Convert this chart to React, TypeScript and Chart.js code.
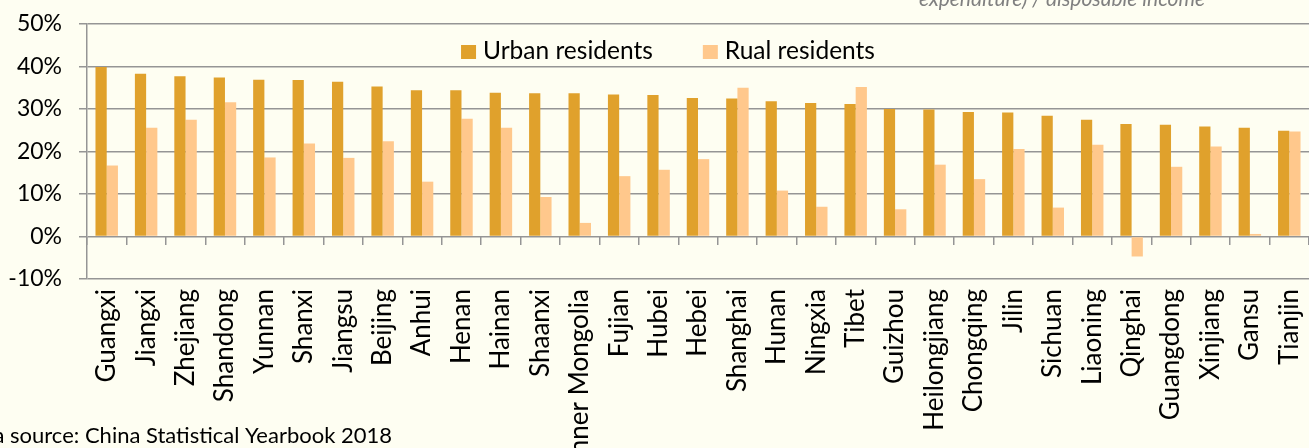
import { useEffect, useRef } from 'react';
import { Chart, registerables } from 'chart.js';

Chart.register(...registerables);

const provinces = [
  'Guangxi', 'Jiangxi', 'Zhejiang', 'Shandong', 'Yunnan', 'Shanxi', 'Jiangsu', 'Beijing',
  'Anhui', 'Henan', 'Hainan', 'Shaanxi', 'Inner Mongolia', 'Fujian', 'Hubei', 'Hebei',
  'Shanghai', 'Hunan', 'Ningxia', 'Tibet', 'Guizhou', 'Heilongjiang', 'Chongqing', 'Jilin',
  'Sichuan', 'Liaoning', 'Qinghai', 'Guangdong', 'Xinjiang', 'Gansu', 'Tianjin',
];

const urbanShare = [
  39.9, 38.3, 37.7, 37.4, 36.9, 36.8, 36.4, 35.3, 34.4, 34.4, 33.8, 33.7, 33.7, 33.4, 33.3, 32.6,
  32.5, 31.8, 31.4, 31.2, 30.0, 29.9, 29.3, 29.2, 28.4, 27.5, 26.5, 26.3, 25.9, 25.6, 24.9,
];

const ruralShare = [
  16.7, 25.6, 27.5, 31.6, 18.6, 21.9, 18.5, 22.4, 12.9, 27.7, 25.6, 9.3, 3.2, 14.2, 15.7, 18.2,
  35.0, 10.8, 7.0, 35.2, 6.4, 16.9, 13.5, 20.6, 6.8, 21.6, -4.7, 16.4, 21.2, 0.6, 24.7,
];

const yTickValues = [-10, 0, 10, 20, 30, 40, 50];
const seriesNames = ['Urban residents', 'Rual residents'];
const subtitleText = 'expenditure) / disposable income';
const sourceText = 'Data source: China Statistical Yearbook 2018';

const W = 1309;
const H = 448;
const FONT = 'Lato, "Open Sans", sans-serif';
const GRID = '#959595';
const URBAN = '#E0A12C';
const RURAL = '#FFC88C';
const BG = '#FEFEF2';

export default function App() {
  const ref = useRef<HTMLCanvasElement>(null);

  useEffect(() => {
    const canvas = ref.current;
    if (!canvas) return;

    const extras = {
      id: 'extras',
      afterDraw(chart: any) {
        const ctx = chart.ctx as CanvasRenderingContext2D;
        ctx.save();
        ctx.font = `24.5px ${FONT}`;
        ctx.textBaseline = 'alphabetic';
        ctx.textAlign = 'left';
        const items = chart.data.datasets.map((ds: any) => ({
          label: ds.label as string,
          color: ds.backgroundColor as string,
          w: ctx.measureText(ds.label).width,
        }));
        const box = 15;
        const gap = 7;
        const itemGap = 50;
        const total =
          items.reduce((s: number, it: any) => s + box + gap + it.w, 0) + itemGap * (items.length - 1);
        let x = 668 - total / 2;
        for (const it of items) {
          ctx.fillStyle = it.color;
          ctx.fillRect(x, 45, box, 14);
          ctx.fillStyle = '#000';
          ctx.fillText(it.label, x + box + gap, 58.5);
          x += box + gap + it.w + itemGap;
        }

        ctx.textAlign = 'right';
        ctx.font = `italic 21px ${FONT}`;
        ctx.fillStyle = '#808080';
        ctx.fillText(subtitleText, 1205, 6);

        ctx.font = `22px ${FONT}`;
        ctx.fillStyle = '#000';
        ctx.fillText(sourceText, 392, 443);
        ctx.restore();
      },
    };

    Chart.defaults.font.family = FONT;
    Chart.defaults.color = '#000';

    const chart = new Chart(canvas, {
      type: 'bar',
      data: {
        labels: provinces,
        datasets: [
          {
            label: seriesNames[0],
            data: urbanShare,
            backgroundColor: URBAN,
            borderWidth: 0,
            categoryPercentage: 0.57,
            barPercentage: 1.0,
            xAxisID: 'x',
            yAxisID: 'y',
          },
          {
            label: seriesNames[1],
            data: ruralShare,
            backgroundColor: RURAL,
            borderWidth: 0,
            categoryPercentage: 0.57,
            barPercentage: 1.0,
            xAxisID: 'x',
            yAxisID: 'y',
          },
        ],
      },
      options: {
        responsive: false,
        animation: false,
        layout: { padding: { top: 24, left: 0, right: 0, bottom: 0 } },
        plugins: {
          legend: { display: false },
          tooltip: { enabled: false },
          title: { display: false },
        },
        scales: {
          x: {
            type: 'category',
            position: 'bottom',
            offset: true,
            grid: { display: false, drawTicks: false },
            border: { display: false },
            ticks: {
              autoSkip: false,
              maxRotation: 90,
              minRotation: 90,
              padding: 10,
              font: { size: 26 },
              color: '#000',
            },
            afterFit: (s: any) => {
              s.height = 169;
              s.paddingLeft = 0;
              s.paddingRight = 0;
            },
          },
          x2: {
            type: 'category',
            axis: 'x',
            position: { y: 0 },
            offset: true,
            grid: {
              offset: true,
              drawOnChartArea: false,
              drawTicks: true,
              tickLength: 8,
              color: GRID,
              lineWidth: 1.5,
            },
            border: { display: false },
            ticks: { display: false },
            afterFit: (s: any) => {
              s.paddingLeft = 0;
              s.paddingRight = 0;
            },
          },
          y: {
            type: 'linear',
            position: 'left',
            min: -10,
            max: 50,
            afterBuildTicks: (s: any) => {
              s.ticks = yTickValues.map((v) => ({ value: v }));
            },
            ticks: {
              callback: (v: any) => `${v}%`,
              padding: 17,
              font: { size: 23 },
              color: '#000',
            },
            grid: { color: GRID, lineWidth: 1.5, tickLength: 8, drawTicks: true },
            border: { color: GRID, width: 1.5 },
            afterFit: (s: any) => {
              s.width = 87;
              s.paddingTop = 0;
              s.paddingBottom = 0;
            },
          },
        },
      } as any,
      plugins: [extras],
    });

    return () => chart.destroy();
  }, []);

  return (
    <div
      style={{
        position: 'fixed',
        left: 0,
        top: 0,
        width: W,
        height: H,
        overflow: 'hidden',
        background: BG,
      }}
    >
      <canvas ref={ref} width={W} height={H} style={{ display: 'block', width: W, height: H }} />
    </div>
  );
}
